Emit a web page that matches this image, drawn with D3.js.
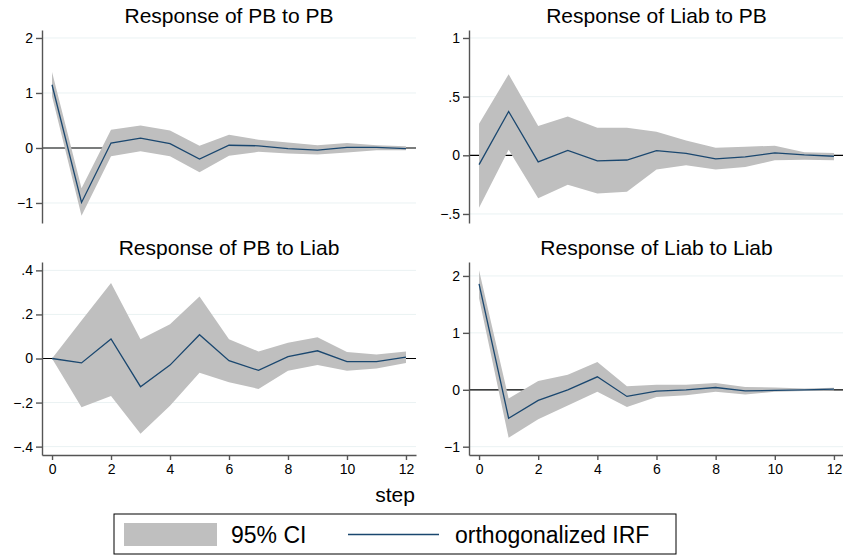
<!DOCTYPE html>
<html>
<head>
<meta charset="utf-8">
<script src="https://cdn.jsdelivr.net/npm/d3@7"></script>
<style>
  body { margin: 0; background: #fff; }
  svg { display: block; font-family: "Liberation Sans", Arial, Helvetica, sans-serif; }
</style>
</head>
<body>
<div id="chart"></div>
<script>
// steps of the IRF
const steps = [0, 1, 2, 3, 4, 5, 6, 7, 8, 9, 10, 11, 12];
const xTicks = [0, 2, 4, 6, 8, 10, 12];

// Response of PB to PB
const pbPbIrf = [1.15, -0.99, 0.09, 0.18, 0.08, -0.20, 0.05, 0.04, -0.01, -0.04, 0.01, 0.01, -0.01];
const pbPbLo  = [0.94, -1.23, -0.15, -0.06, -0.15, -0.44, -0.14, -0.07, -0.10, -0.12, -0.08, -0.04, -0.04];
const pbPbHi  = [1.38, -0.73, 0.33, 0.41, 0.32, 0.04, 0.24, 0.15, 0.10, 0.05, 0.09, 0.05, 0.03];

// Response of Liab to PB
const liabPbIrf = [-0.08, 0.373, -0.056, 0.042, -0.048, -0.04, 0.04, 0.017, -0.03, -0.014, 0.02, 0.003, -0.008];
const liabPbLo  = [-0.446, 0.048, -0.367, -0.25, -0.325, -0.31, -0.12, -0.085, -0.12, -0.10, -0.042, -0.037, -0.042];
const liabPbHi  = [0.27, 0.69, 0.25, 0.33, 0.235, 0.235, 0.20, 0.127, 0.065, 0.073, 0.082, 0.025, 0.02];

// Response of PB to Liab
const pbLiabIrf = [0, -0.02, 0.089, -0.128, -0.03, 0.108, -0.01, -0.054, 0.008, 0.035, -0.014, -0.014, 0.006];
const pbLiabLo  = [0, -0.221, -0.17, -0.341, -0.215, -0.065, -0.108, -0.138, -0.056, -0.03, -0.056, -0.045, -0.02];
const pbLiabHi  = [0, 0.173, 0.343, 0.087, 0.155, 0.281, 0.087, 0.032, 0.072, 0.096, 0.029, 0.018, 0.032];

// Response of Liab to Liab
const liabLiabIrf = [1.86, -0.50, -0.187, 0.0, 0.228, -0.117, -0.023, 0.0, 0.04, -0.018, -0.012, 0.0, 0.012];
const liabLiabLo  = [1.61, -0.842, -0.52, -0.275, -0.035, -0.304, -0.129, -0.094, -0.035, -0.082, -0.035, -0.023, -0.012];
const liabLiabHi  = [2.10, -0.152, 0.152, 0.263, 0.49, 0.064, 0.088, 0.088, 0.117, 0.047, 0.04, 0.023, 0.035];

// y tick values per panel
const pbPbTicks = [-1, 0, 1, 2];
const liabPbTicks = [-0.5, 0, 0.5, 1];
const pbLiabTicks = [-0.4, -0.2, 0, 0.2, 0.4];
const liabLiabTicks = [-1, 0, 1, 2];

const titles = ["Response of PB to PB", "Response of Liab to PB", "Response of PB to Liab", "Response of Liab to Liab"];
const legendLabels = ["95% CI", "orthogonalized IRF"];

const width = 843, height = 556;
const bandColor = "#bfbfbf";
const lineColor = "#1a476f";
const axisColor = "#555";

const panels = [
  { title: titles[0], irf: pbPbIrf, lo: pbPbLo, hi: pbPbHi, ticks: pbPbTicks, dom: [-1.364, 2.145], col: 0, row: 0 },
  { title: titles[1], irf: liabPbIrf, lo: liabPbLo, hi: liabPbHi, ticks: liabPbTicks, dom: [-0.577, 1.068], col: 1, row: 0 },
  { title: titles[2], irf: pbLiabIrf, lo: pbLiabLo, hi: pbLiabHi, ticks: pbLiabTicks, dom: [-0.438, 0.438], col: 0, row: 1 },
  { title: titles[3], irf: liabLiabIrf, lo: liabLiabLo, hi: liabLiabHi, ticks: liabLiabTicks, dom: [-1.146, 2.245], col: 1, row: 1 }
];

const colX = [[42, 416], [469, 844]];
const rowY = [[30, 223], [262, 455]];

// Stata style labels: .5, −.5, −1
function fmtTick(d) {
  const s = String(Math.abs(d)).replace(/^0\./, ".");
  return d < 0 ? "\u2212" + s : s;
}

const svg = d3.select("#chart").append("svg")
  .attr("width", width)
  .attr("height", height);

panels.forEach(p => {
  const [x0, x1] = colX[p.col];
  const [y0, y1] = rowY[p.row];

  const x = d3.scaleLinear().domain([-0.34, 12.34]).range([x0, x1]);
  const y = d3.scaleLinear().domain(p.dom).range([y1, y0]);

  const g = svg.append("g");

  // grid
  g.selectAll(".grid")
    .data(p.ticks)
    .join("line")
    .attr("x1", x0).attr("x2", x1)
    .attr("y1", d => y(d)).attr("y2", d => y(d))
    .attr("stroke", "#eaf2f3")
    .attr("stroke-width", 1);

  // zero line
  g.append("line")
    .attr("x1", x0).attr("x2", x1)
    .attr("y1", y(0)).attr("y2", y(0))
    .attr("stroke", "#000")
    .attr("stroke-width", 1.2);

  // CI band
  const area = d3.area()
    .x((d, i) => x(steps[i]))
    .y0((d, i) => y(p.lo[i]))
    .y1((d, i) => y(p.hi[i]));
  g.append("path")
    .datum(steps)
    .attr("d", area)
    .attr("fill", bandColor);

  // IRF line
  const line = d3.line()
    .x((d, i) => x(steps[i]))
    .y(d => y(d));
  g.append("path")
    .datum(p.irf)
    .attr("d", line)
    .attr("fill", "none")
    .attr("stroke", lineColor)
    .attr("stroke-width", 1.3);

  // y axis
  const yAxis = g.append("g")
    .attr("transform", `translate(${x0},0)`)
    .call(d3.axisLeft(y).tickValues(p.ticks).tickSize(6).tickSizeOuter(0).tickPadding(3).tickFormat(fmtTick));
  yAxis.attr("font-family", null).attr("font-size", 14);
  yAxis.selectAll("path, line").attr("stroke", axisColor).attr("stroke-width", 1.4);
  yAxis.selectAll("text").attr("fill", "#000");

  // x axis only on the bottom row
  if (p.row === 1) {
    const xAxis = g.append("g")
      .attr("transform", `translate(0,${y1})`)
      .call(d3.axisBottom(x).tickValues(xTicks).tickSize(5).tickSizeOuter(0).tickPadding(4).tickFormat(d3.format("d")));
    xAxis.attr("font-family", null).attr("font-size", 14);
    xAxis.selectAll("path, line").attr("stroke", axisColor).attr("stroke-width", 1.4);
    xAxis.selectAll("text").attr("fill", "#000");
  }

  // title
  g.append("text")
    .attr("x", (x0 + x1) / 2)
    .attr("y", y0 - 7)
    .attr("text-anchor", "middle")
    .attr("font-size", 21)
    .attr("fill", "#000")
    .text(p.title);
});

// x axis title
svg.append("text")
  .attr("x", 395)
  .attr("y", 502)
  .attr("text-anchor", "middle")
  .attr("font-size", 21)
  .text("step");

// legend
const leg = svg.append("g");
leg.append("rect")
  .attr("x", 114).attr("y", 514)
  .attr("width", 562).attr("height", 40)
  .attr("fill", "#fff")
  .attr("stroke", "#000")
  .attr("stroke-width", 1);
leg.append("rect")
  .attr("x", 124).attr("y", 523)
  .attr("width", 93).attr("height", 23)
  .attr("fill", bandColor);
leg.append("text")
  .attr("x", 231).attr("y", 543)
  .attr("font-size", 23)
  .text(legendLabels[0]);
leg.append("line")
  .attr("x1", 348).attr("x2", 439)
  .attr("y1", 534.5).attr("y2", 534.5)
  .attr("stroke", lineColor)
  .attr("stroke-width", 1.3);
leg.append("text")
  .attr("x", 455).attr("y", 543)
  .attr("font-size", 23)
  .text(legendLabels[1]);
</script>
</body>
</html>
